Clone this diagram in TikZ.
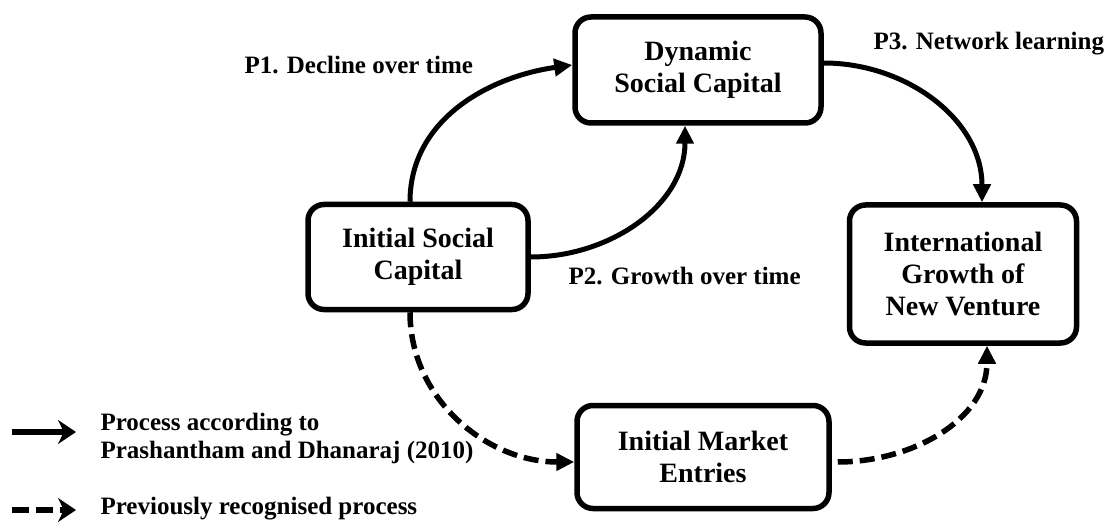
\documentclass[tikz,border=0pt]{standalone}
\usepackage{fontspec}
\setmainfont{Liberation Serif}
\usepackage{tikz}
\usetikzlibrary{arrows.meta}

\begin{document}
\begin{tikzpicture}[x=1pt,y=-1pt,
  box/.style={draw,line width=5.5pt,rounded corners=16pt,align=center,font=\fontsize{28}{32}\selectfont\bfseries},
  lab/.style={anchor=west,align=left,font=\fontsize{25}{28}\selectfont\bfseries},
  flow/.style={line width=5pt,-{Triangle[length=18pt,width=17pt]}},
  prev/.style={flow,line width=5.5pt,dash pattern=on 15pt off 7pt},
  key/.style={line width=6pt,-{Stealth[length=18pt,width=24pt]}}]
\useasboundingbox (0,0) rectangle (1104,524);

\node[box,minimum width=220pt,minimum height=105pt] (isc) at (418,257) {Initial Social\\Capital};
\node[box,minimum width=246pt,minimum height=106pt] (dsc) at (698,70) {Dynamic\\Social Capital};
\node[box,minimum width=227pt,minimum height=138pt] (igv) at (963,274) {International\\Growth of\\New Venture};
\node[box,minimum width=252pt,minimum height=103pt] (ime) at (703,457) {Initial Market\\Entries};

\node[lab] (p1) at (241,65) {P1. Decline over time};
\node[lab] (p2) at (565,276) {P2. Growth over time};
\node[lab] (p3) at (870,44) {P3. Network learning};

\draw[flow] ([xshift=-8pt]isc.north) to[out=90,in=188] ([yshift=5pt]dsc.west);
\draw[flow] (isc.east) to[out=0,in=-90] ([xshift=-13pt]dsc.south);
\draw[flow] ([yshift=7pt]dsc.east) to[out=0,in=90] ([xshift=19pt]igv.north);
\draw[prev] ([xshift=-8pt]isc.south) to[out=-90,in=180] ([yshift=-5pt]ime.west);
\draw[prev] ([xshift=6pt,yshift=-5pt]ime.east) to[out=0,in=-90] ([xshift=24pt]igv.south);

\coordinate (k1a) at (12,432);
\coordinate (k1b) at (76,432);
\coordinate (k2a) at (12,510);
\coordinate (k2b) at (76,510);
\draw[key] (k1a) -- (k1b);
\draw[key,dash pattern=on 17pt off 7pt] (k2a) -- (k2b);
\node[lab] (t1) at (97,438) {Process according to\\Prashantham and Dhanaraj (2010)};
\node[lab] (t2) at (97,509) {Previously recognised process};
\end{tikzpicture}
\end{document}
